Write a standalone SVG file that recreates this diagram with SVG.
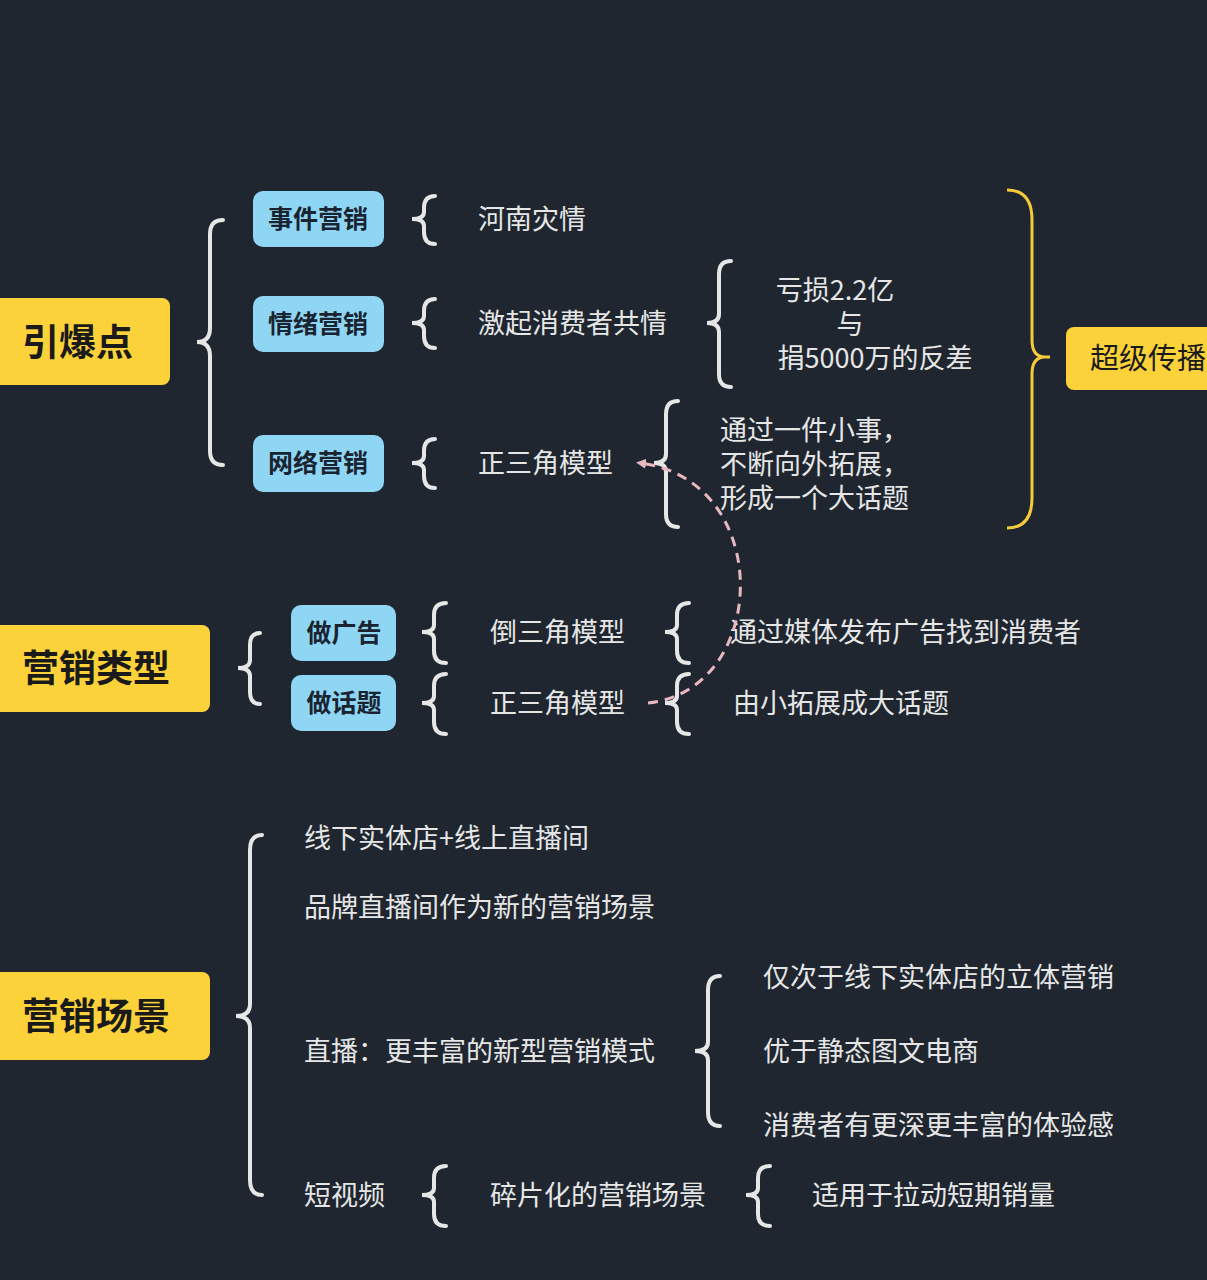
<svg xmlns="http://www.w3.org/2000/svg" width="1207" height="1280" viewBox="0 0 1207 1280">
<defs>
<style>
.y{fill:#fcd23a}
.b{fill:#8ed6f4}
.yt{font-family:"Noto Sans CJK SC","Noto Sans",sans-serif;font-size:37px;font-weight:bold;fill:#1a1a1a;dominant-baseline:central}
.bt{font-family:"Noto Sans CJK SC","Noto Sans",sans-serif;font-size:25px;font-weight:bold;fill:#1a2430;text-anchor:middle;dominant-baseline:central}
.t{font-family:"Noto Sans CJK SC","Noto Sans",sans-serif;font-size:27px;fill:#e6e6e6;dominant-baseline:central}
.br{fill:none;stroke:#e6e6e6;stroke-width:4;stroke-linecap:round}
</style>
<marker id="ah" markerWidth="10" markerHeight="10" refX="6" refY="5" orient="auto" markerUnits="userSpaceOnUse"><path d="M0,0 L10,5 L0,10 z" fill="#e8b8c0"/></marker>
</defs>
<rect width="1207" height="1280" fill="#1f2630"/>
<g id="n-yinbao"><rect class="y" x="-10" y="298" width="180" height="87" rx="8"/><text class="yt" x="22" y="340">引爆点</text></g>
<g id="n-shijian"><rect class="b" x="253" y="191" width="131" height="56" rx="10"/><text class="bt" x="318" y="217">事件营销</text></g>
<g id="n-qingxu"><rect class="b" x="253" y="296" width="131" height="56" rx="10"/><text class="bt" x="318" y="322">情绪营销</text></g>
<g id="n-wangluo"><rect class="b" x="253" y="435" width="131" height="57" rx="10"/><text class="bt" x="318" y="461">网络营销</text></g>
<g id="n-t1"><text class="t" x="478" y="217">河南灾情</text></g>
<g id="n-t2"><text class="t" x="478" y="321">激起消费者共情</text></g>
<g id="n-t3"><text class="t" x="478" y="461">正三角模型</text></g>
<g id="n-t4"><text class="t" x="835" y="288" text-anchor="middle">亏损2.2亿</text><text class="t" x="850" y="322" text-anchor="middle">与</text><text class="t" x="875" y="356" text-anchor="middle">捐5000万的反差</text></g>
<g id="n-t5"><text class="t" x="720" y="428">通过一件小事，</text><text class="t" x="720" y="462">不断向外拓展，</text><text class="t" x="720" y="496">形成一个大话题</text></g>
<g id="n-chaoji"><rect class="y" x="1066" y="327" width="160" height="63" rx="8"/><text class="yt" x="1090" y="356" style="font-size:29px;font-weight:normal">超级传播</text></g>
<g id="n-leixing"><rect class="y" x="-10" y="625" width="220" height="87" rx="8"/><text class="yt" x="22" y="666">营销类型</text></g>
<g id="n-guanggao"><rect class="b" x="291" y="605" width="105" height="56" rx="10"/><text class="bt" x="344" y="631">做广告</text></g>
<g id="n-huati"><rect class="b" x="291" y="675" width="105" height="56" rx="10"/><text class="bt" x="344" y="701">做话题</text></g>
<g id="n-t6"><text class="t" x="490" y="630">倒三角模型</text></g>
<g id="n-t7"><text class="t" x="490" y="701">正三角模型</text></g>
<g id="n-t8"><text class="t" x="730" y="630">通过媒体发布广告找到消费者</text></g>
<g id="n-t9"><text class="t" x="733" y="701">由小拓展成大话题</text></g>
<g id="n-changjing"><rect class="y" x="-10" y="972" width="220" height="88" rx="8"/><text class="yt" x="22" y="1014">营销场景</text></g>
<g id="n-s1"><text class="t" x="304" y="836">线下实体店+线上直播间</text></g>
<g id="n-s2"><text class="t" x="304" y="905">品牌直播间作为新的营销场景</text></g>
<g id="n-s3"><text class="t" x="304" y="1049">直播：更丰富的新型营销模式</text></g>
<g id="n-s4"><text class="t" x="304" y="1193">短视频</text></g>
<g id="n-s5"><text class="t" x="763" y="975">仅次于线下实体店的立体营销</text><text class="t" x="763" y="1049">优于静态图文电商</text><text class="t" x="763" y="1123">消费者有更深更丰富的体验感</text></g>
<g id="n-s6"><text class="t" x="490" y="1193">碎片化的营销场景</text></g>
<g id="n-s7"><text class="t" x="812" y="1193">适用于拉动短期销量</text></g>
<g id="connectors">
<path class="br" d="M223 220 Q210 220 210 234 L210 328 Q210 342 197 342 Q210 342 210 356 L210 451 Q210 465 223 465"/>
<path class="br" d="M435 196 Q424 196 424 208 L424 212 Q424 219 412 219 Q424 219 424 226 L424 232 Q424 244 435 244"/>
<path class="br" d="M435 299 Q424 299 424 311 L424 316 Q424 323 412 323 Q424 323 424 330 L424 336 Q424 348 435 348"/>
<path class="br" d="M435 439 Q424 439 424 451 L424 456 Q424 463 412 463 Q424 463 424 470 L424 476 Q424 488 435 488"/>
<path class="br" d="M731 261 Q719 261 719 274 L719 314 Q719 323 707 323 Q719 323 719 332 L719 374 Q719 387 731 387"/>
<path class="br" d="M678 401 Q666 401 666 414 L666 454 Q666 463 654 463 Q666 463 666 472 L666 514 Q666 527 678 527"/>
<path d="M1007 190 Q1032 190 1032 220 L1032 340 Q1032 357 1045 357 Q1032 357 1032 374 L1032 498 Q1032 528 1007 528" fill="none" stroke="#f5c93a" stroke-width="3"/>
<line x1="1045" y1="357" x2="1050" y2="357" stroke="#f5c93a" stroke-width="3"/>
<path class="br" d="M260 633 Q250 633 250 645 L250 660 Q250 668 238 668 Q250 668 250 676 L250 692 Q250 704 260 704"/>
<path class="br" d="M446 603 Q434 603 434 615 L434 625 Q434 632 422 632 Q434 632 434 639 L434 651 Q434 663 446 663"/>
<path class="br" d="M446 674 Q434 674 434 686 L434 696 Q434 703 422 703 Q434 703 434 710 L434 722 Q434 734 446 734"/>
<path class="br" d="M689 603 Q677 603 677 615 L677 625 Q677 632 665 632 Q677 632 677 639 L677 651 Q677 663 689 663"/>
<path class="br" d="M689 674 Q677 674 677 686 L677 696 Q677 703 665 703 Q677 703 677 710 L677 722 Q677 734 689 734"/>
<path class="br" d="M262 835 Q250 835 250 850 L250 1004 Q250 1016 236 1016 Q250 1016 250 1028 L250 1180 Q250 1195 262 1195"/>
<path class="br" d="M720 976 Q708 976 708 990 L708 1042 Q708 1051 695 1051 Q708 1051 708 1060 L708 1112 Q708 1126 720 1126"/>
<path class="br" d="M446 1166 Q434 1166 434 1178 L434 1188 Q434 1195 422 1195 Q434 1195 434 1202 L434 1214 Q434 1226 446 1226"/>
<path class="br" d="M770 1166 Q758 1166 758 1178 L758 1188 Q758 1195 746 1195 Q758 1195 758 1202 L758 1214 Q758 1226 770 1226"/>
<path d="M648 703 C770 690 775 480 640 463" fill="none" stroke="#e8b8c0" stroke-width="3" stroke-dasharray="10 7" marker-end="url(#ah)"/>
</g>
</svg>
